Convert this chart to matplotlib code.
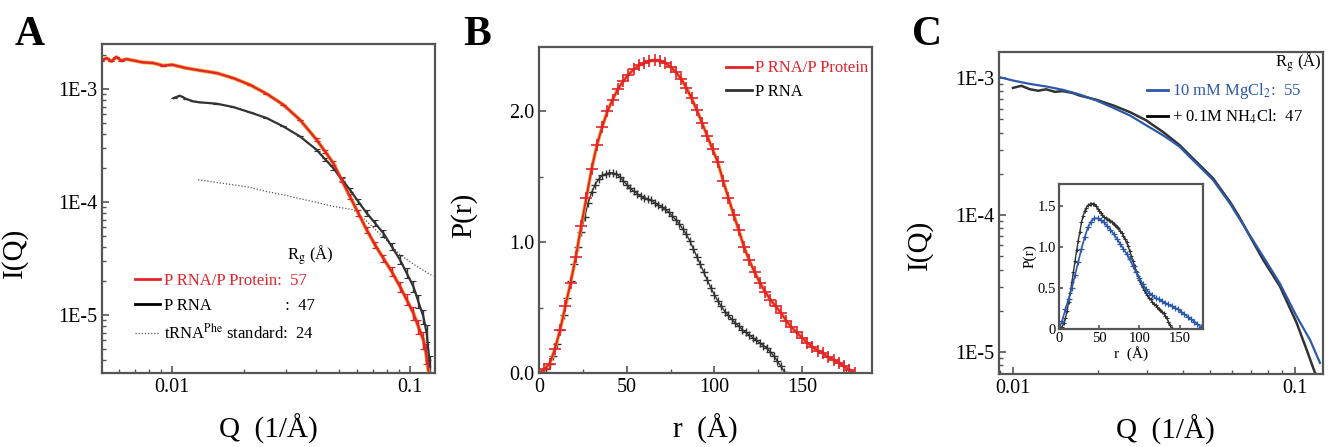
"""
SAXS of P RNA / P protein: scattering curves (A, C) and pair distance distributions (B, inset).
"""

import matplotlib
matplotlib.use("Agg")
import matplotlib.pyplot as plt
from matplotlib.lines import Line2D
from matplotlib.ticker import FixedLocator, FixedFormatter, NullFormatter, LogLocator, MultipleLocator
import numpy as np

plt.rcParams["font.family"] = ["Liberation Serif", "DejaVu Serif"]
plt.rcParams["mathtext.fontset"] = "stix"

RED = "#e3232b"
HALO = "#f4a93a"
DARK = "#333333"
BLUE = "#2c5aa8"
SPINE = "#555555"

# ---- panel A: I(Q) ----
q_holo = [0.00505, 0.00530, 0.00556, 0.00584, 0.00613, 0.00643, 0.00686, 0.00755, 0.00832,
          0.00917, 0.0100, 0.01149, 0.01307, 0.01536, 0.01804, 0.0212, 0.0249, 0.02926, 0.03439,
          0.04041, 0.0438, 0.04748, 0.05145, 0.05578, 0.06045, 0.06555, 0.07104, 0.0770, 0.08349,
          0.09049, 0.09652, 0.103, 0.108, 0.1134, 0.1164, 0.119]
i_holo = [1.757e-3, 1.88e-3, 1.757e-3, 1.92e-3, 1.78e-3, 1.84e-3, 1.79e-3, 1.72e-3, 1.70e-3,
          1.61e-3, 1.64e-3, 1.53e-3, 1.46e-3, 1.385e-3, 1.25e-3, 1.09e-3, 9.09e-4, 7.27e-4, 5.35e-4,
          3.56e-4, 2.81e-4, 2.21e-4, 1.576e-4, 1.12e-4, 8.0e-5, 5.69e-5, 4.19e-5, 3.19e-5, 2.43e-5,
          1.79e-5, 1.37e-5, 1.04e-5, 7.94e-6, 6.05e-6, 4.61e-6, 3.28e-6]
err_holo = [0] * 19 + [0.06, 0.07, 0.08, 0.09, 0.10, 0.11, 0.12, 0.13, 0.15, 0.17, 0.20, 0.22,
                       0.25, 0.30, 0.35, 0.40, 0.45]

q_rna = [0.01016, 0.01077, 0.01149, 0.01225, 0.01307, 0.01536, 0.01804, 0.0212, 0.0249, 0.02926,
         0.03439, 0.04041, 0.0438, 0.04748, 0.05145, 0.05578, 0.06045, 0.06555, 0.07104, 0.0770,
         0.08349, 0.09049, 0.09652, 0.103, 0.108, 0.1134, 0.1171, 0.121]
i_rna = [8.32e-4, 8.73e-4, 8.16e-4, 7.78e-4, 7.62e-4, 7.42e-4, 6.93e-4, 6.22e-4, 5.54e-4, 4.67e-4,
         3.81e-4, 2.90e-4, 2.40e-4, 2.00e-4, 1.60e-4, 1.285e-4, 1.01e-4, 8.0e-5, 6.52e-5, 5.32e-5,
         4.05e-5, 3.09e-5, 2.35e-5, 1.79e-5, 1.32e-5, 9.73e-6, 6.93e-6, 3.51e-6]
err_rna = [0] * 11 + [0.05, 0.06, 0.07, 0.08, 0.09, 0.10, 0.11, 0.12, 0.14, 0.16, 0.18, 0.20,
                      0.22, 0.26, 0.30, 0.35, 0.45]

q_trna = [0.01286, 0.01536, 0.01804, 0.0212, 0.0249, 0.02926, 0.03439, 0.04041, 0.04748, 0.05761,
          0.06555, 0.0770, 0.09049, 0.1063, 0.1249]
i_trna = [1.576e-4, 1.49e-4, 1.42e-4, 1.35e-4, 1.24e-4, 1.16e-4, 1.07e-4, 9.93e-5, 9.15e-5, 8.55e-5,
          6.75e-5, 4.90e-5, 3.42e-5, 2.70e-5, 2.20e-5]

# ---- panel B: P(r) ----
r_holo = list(range(0, 181, 3))
p_holo = [0.00, 0.03, 0.07, 0.18, 0.33, 0.51, 0.69, 0.89, 1.12, 1.34, 1.56, 1.74, 1.88, 2.00, 2.09,
          2.17, 2.23, 2.28, 2.32, 2.35, 2.37, 2.385, 2.39, 2.385, 2.37, 2.34, 2.30, 2.25, 2.18, 2.10,
          2.01, 1.91, 1.81, 1.71, 1.61, 1.47, 1.34, 1.21, 1.09, 0.96, 0.86, 0.77, 0.69, 0.62, 0.56,
          0.51, 0.46, 0.40, 0.35, 0.31, 0.27, 0.23, 0.20, 0.17, 0.15, 0.12, 0.10, 0.08, 0.05, 0.025,
          0.00]

r_rna = list(range(0, 141, 2))
p_rna = [0.00, 0.01, 0.03, 0.07, 0.13, 0.22, 0.33, 0.44, 0.57, 0.70, 0.83, 0.96, 1.08, 1.19, 1.30,
         1.38, 1.44, 1.48, 1.51, 1.52, 1.53, 1.53, 1.52, 1.50, 1.47, 1.44, 1.41, 1.39, 1.37, 1.35,
         1.34, 1.33, 1.32, 1.30, 1.285, 1.27, 1.25, 1.23, 1.20, 1.17, 1.14, 1.10, 1.06, 1.01, 0.95,
         0.89, 0.83, 0.77, 0.71, 0.65, 0.60, 0.55, 0.51, 0.47, 0.44, 0.41, 0.38, 0.36, 0.33, 0.31,
         0.29, 0.27, 0.25, 0.23, 0.21, 0.19, 0.16, 0.13, 0.09, 0.05, 0.01]

# ---- panel C: I(Q) in Mg vs NH4 ----
q_mg = [0.00897, 0.0100, 0.01146, 0.01313, 0.01505, 0.01725, 0.01976, 0.02265, 0.02596, 0.02974,
        0.03184, 0.03408, 0.03648, 0.03905, 0.04181, 0.04475, 0.04791, 0.05129, 0.05489, 0.05876,
        0.06290, 0.06734, 0.07718, 0.08845, 0.1014, 0.1130, 0.1227]
i_mg = [1.017e-3, 9.62e-4, 9.09e-4, 8.70e-4, 8.22e-4, 7.60e-4, 6.88e-4, 6.08e-4, 5.35e-4, 4.52e-4,
        4.16e-4, 3.82e-4, 3.48e-4, 3.15e-4, 2.73e-4, 2.38e-4, 2.07e-4, 1.80e-4, 1.48e-4, 1.22e-4,
        9.72e-5, 7.78e-5, 4.97e-5, 3.16e-5, 1.82e-5, 1.23e-5, 8.32e-6]

q_nh4 = [0.0100, 0.0107, 0.0115, 0.0123, 0.0131, 0.0141, 0.0150, 0.0163, 0.0172, 0.0198, 0.0227,
         0.0260, 0.0297, 0.03184, 0.0341, 0.03648, 0.0391, 0.04181, 0.0448, 0.04791, 0.0513,
         0.05489, 0.0588, 0.0629, 0.0673, 0.0772, 0.0885, 0.1014, 0.1100, 0.1178]
i_nh4 = [8.5e-4, 8.8e-4, 8.3e-4, 8.1e-4, 8.3e-4, 7.95e-4, 8.05e-4, 7.8e-4, 7.48e-4, 6.95e-4,
         6.32e-4, 5.65e-4, 4.92e-4, 4.45e-4, 4.04e-4, 3.62e-4, 3.23e-4, 2.81e-4, 2.44e-4, 2.13e-4,
         1.85e-4, 1.52e-4, 1.25e-4, 1.0e-4, 7.78e-5, 4.70e-5, 3.01e-5, 1.63e-5, 1.04e-5, 7.03e-6]

# inset: P(r) in Mg (NH4 curve is the P RNA curve from B)
r_mg = list(range(0, 177, 4)) + [179]
p_mg = [0.00, 0.10, 0.24, 0.37, 0.50, 0.66, 0.82, 0.98, 1.12, 1.24, 1.31, 1.35, 1.35, 1.33, 1.30,
        1.26, 1.21, 1.16, 1.10, 1.04, 0.98, 0.92, 0.85, 0.77, 0.69, 0.62, 0.55, 0.49, 0.44, 0.41,
        0.38, 0.36, 0.34, 0.32, 0.30, 0.28, 0.26, 0.24, 0.21, 0.18, 0.15, 0.12, 0.09, 0.06, 0.03,
        0.00]


def style_axes(ax, labelsize=14.5):
    for s in ax.spines.values():
        s.set_color(SPINE)
        s.set_linewidth(1.6)
    ax.tick_params(which="both", direction="in", top=False, right=False,
                   labelsize=labelsize, colors=SPINE, labelcolor="black")
    ax.tick_params(which="major", length=5, width=1.2)
    ax.tick_params(which="minor", length=3, width=1.0)


def log_ticks(ax, yvals, ylabels):
    ax.xaxis.set_major_locator(FixedLocator([0.01, 0.1]))
    ax.xaxis.set_major_formatter(FixedFormatter(["0.01", "0.1"]))
    ax.xaxis.set_minor_locator(LogLocator(base=10, subs=np.arange(2, 10)))
    ax.xaxis.set_minor_formatter(NullFormatter())
    ax.yaxis.set_major_locator(FixedLocator(yvals))
    ax.yaxis.set_major_formatter(FixedFormatter(ylabels))
    ax.yaxis.set_minor_locator(LogLocator(base=10, subs=np.arange(2, 10)))
    ax.yaxis.set_minor_formatter(NullFormatter())


fig = plt.figure(figsize=(13.3, 4.47), dpi=100)

# ---------------- A ----------------
axA = fig.add_axes([0.0767, 0.1655, 0.2504, 0.736])
axA.set_xscale("log")
axA.set_yscale("log")
i_h = np.array(i_holo)
i_r = np.array(i_rna)
axA.plot(q_trna, i_trna, ls=(0, (1, 1.5)), lw=0.9, color="#555555")
axA.errorbar(q_rna, i_rna, yerr=i_r * np.array(err_rna) * 0.5, color=DARK, lw=1.6,
             elinewidth=1.0, capsize=2, capthick=0.8)
axA.plot(q_holo, i_holo, color=HALO, lw=2.8)
axA.errorbar(q_holo, i_holo, yerr=i_h * np.array(err_holo) * 0.5, color=RED, lw=1.6,
             elinewidth=1.0, capsize=2, capthick=0.8)
axA.set_xlim(0.00508, 0.127)
axA.set_ylim(3.07e-6, 2.5e-3)
log_ticks(axA, [1e-3, 1e-4, 1e-5], ["1E-3", "1E-4", "1E-5"])
style_axes(axA)
axA.set_xlabel("Q  (1/Å)", fontsize=21)
axA.set_ylabel("I(Q)", fontsize=21)
axA.xaxis.set_label_coords(0.5, -0.125)
axA.yaxis.set_label_coords(-0.222, 0.365)

handlesA = [Line2D([], [], color=RED, lw=2),
            Line2D([], [], color="black", lw=2),
            Line2D([], [], color="#555555", lw=0.9, ls=(0, (1, 1.5)))]
labelsA = ["P RNA/P Protein:  57",
           "P RNA                  :  47",
           "tRNA$^{\\rm Phe}$ standard:  24"]
axA.legend(handlesA, labelsA, loc="upper left", bbox_to_anchor=(0.075, 0.33), frameon=False,
           fontsize=12, handlelength=1.5, handletextpad=0.2, labelspacing=0.55,
           borderpad=0, labelcolor=[RED, "black", "black"])
axA.text(0.556, 0.359, "R$_{\\rm g}$ (Å)", transform=axA.transAxes, fontsize=12,
         va="center", ha="left")

# ---------------- B ----------------
axB = fig.add_axes([0.4053, 0.1655, 0.2504, 0.729])
axB.plot(r_rna, p_rna, color=DARK, lw=1.0, marker="+", ms=6, mew=1.0)
axB.plot(r_holo, p_holo, color=HALO, lw=2.6)
axB.plot(r_holo, p_holo, color=RED, lw=1.4, marker="+", ms=8, mew=1.2)
axB.set_xlim(0, 190)
axB.set_ylim(0, 2.49)
axB.xaxis.set_major_locator(MultipleLocator(50))
axB.xaxis.set_minor_locator(MultipleLocator(25))
axB.yaxis.set_major_locator(FixedLocator([0.0, 1.0, 2.0]))
axB.yaxis.set_major_formatter(FixedFormatter(["0.0", "1.0", "2.0"]))
axB.yaxis.set_minor_locator(MultipleLocator(0.5))
style_axes(axB)
axB.set_xlabel("r  (Å)", fontsize=21)
axB.set_ylabel("P(r)", fontsize=21)
axB.xaxis.set_label_coords(0.5, -0.125)
axB.yaxis.set_label_coords(-0.186, 0.485)
handlesB = [Line2D([], [], color=RED, lw=2), Line2D([], [], color=DARK, lw=2)]
axB.legend(handlesB, ["P RNA/P Protein", "P RNA"], loc="upper left",
           bbox_to_anchor=(0.535, 0.985), frameon=False, fontsize=12, handlelength=1.6,
           handletextpad=0.15, labelspacing=0.45, borderpad=0, labelcolor=[RED, "black"])

# ---------------- C ----------------
axC = fig.add_axes([0.7511, 0.1633, 0.2436, 0.720])
axC.set_xscale("log")
axC.set_yscale("log")
axC.plot(q_nh4, i_nh4, color=DARK, lw=1.8)
axC.plot(q_mg, i_mg, color=BLUE, lw=1.6)
axC.set_xlim(0.00892, 0.1257)
axC.set_ylim(6.9e-6, 1.55e-3)
log_ticks(axC, [1e-3, 1e-4, 1e-5], ["1E-3", "1E-4", "1E-5"])
style_axes(axC)
axC.set_xlabel("Q  (1/Å)", fontsize=21)
axC.set_ylabel("I(Q)", fontsize=21)
axC.xaxis.set_label_coords(0.515, -0.125)
axC.yaxis.set_label_coords(-0.204, 0.40)
handlesC = [Line2D([], [], color=BLUE, lw=2), Line2D([], [], color="black", lw=2)]
axC.legend(handlesC, ["10 mM MgCl$_2$:  55", "+ 0.1M NH$_4$Cl:  47"], loc="upper left",
           bbox_to_anchor=(0.43, 0.935), frameon=False, fontsize=12, handlelength=1.3,
           handletextpad=0.2, labelspacing=0.4, borderpad=0, labelcolor=[BLUE, "black"])
axC.text(0.995, 0.969, "R$_{\\rm g}$ (Å)", transform=axC.transAxes, fontsize=12,
         va="center", ha="right")

# inset
axI = fig.add_axes([0.7962, 0.264, 0.1083, 0.3244])
axI.plot(r_rna, p_rna, color=DARK, lw=1.0, marker="+", ms=3.5, mew=0.8)
axI.plot(r_mg, p_mg, color=BLUE, lw=1.2, marker="+", ms=4.5, mew=0.9)
axI.set_xlim(0, 179)
axI.set_ylim(0, 1.77)
axI.xaxis.set_major_locator(MultipleLocator(50))
axI.yaxis.set_major_locator(FixedLocator([0, 0.5, 1.0, 1.5]))
axI.yaxis.set_major_formatter(FixedFormatter(["0", "0.5", "1.0", "1.5"]))
style_axes(axI, labelsize=10.5)
axI.tick_params(which="major", length=3, pad=2)
axI.set_xlabel("r  (Å)", fontsize=11, labelpad=1)
axI.set_ylabel("P(r)", fontsize=11, labelpad=1)

# panel letters
for x, letter in [(0.011, "A"), (0.348, "B"), (0.686, "C")]:
    fig.text(x, 0.9, letter, fontsize=30, fontweight="bold", ha="left", va="baseline")

fig.savefig("out.png", dpi=100)
